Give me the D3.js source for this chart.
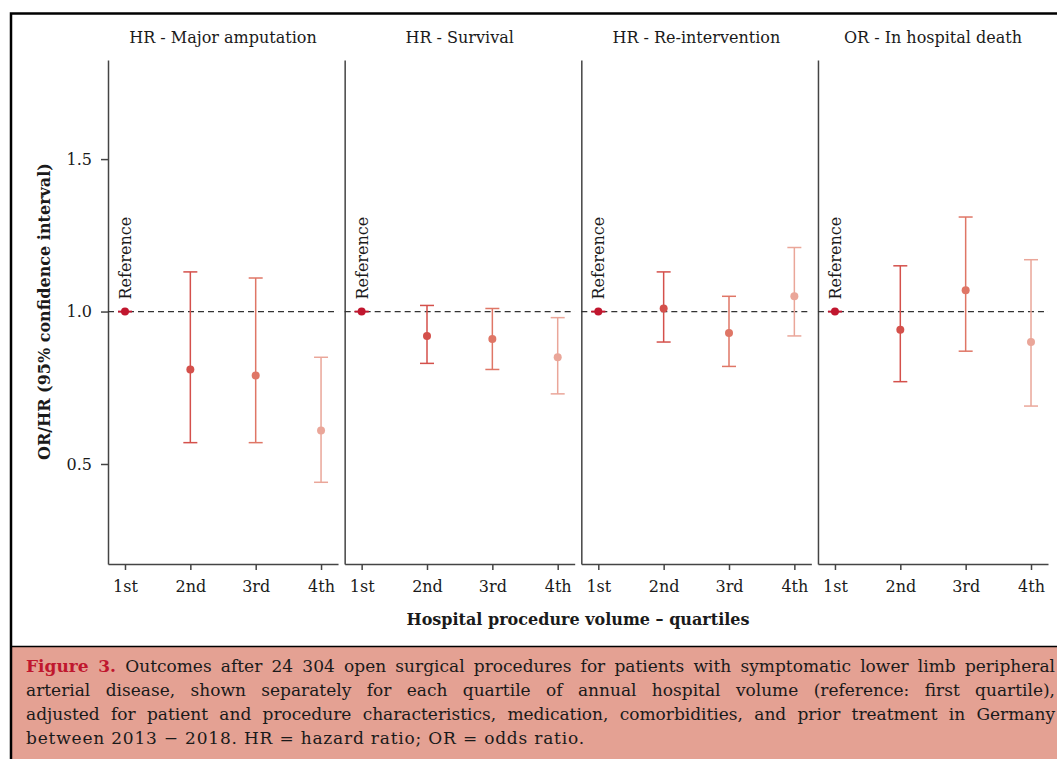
<!DOCTYPE html>
<html>
<head>
<meta charset="utf-8">
<script src="https://cdn.jsdelivr.net/npm/d3@7"></script>
<style>
  body { margin: 0; background: #fff; }
  #wrap { position: relative; width: 1057px; height: 759px; overflow: hidden; }
  svg { position: absolute; left: 0; top: 0; }
  .caption {
    position: absolute; left: 26px; top: 654px; width: 1029px;
    font-family: "DejaVu Serif", serif; font-size: 17px; line-height: 24px; color: #1a1a1a;
  }
  .caption div { text-align: justify; text-align-last: justify; white-space: nowrap; }
  .caption div.last { text-align-last: left; letter-spacing: 0.8px; }
  .caption b { color: #c0172e; }
</style>
</head>
<body>
<div id="wrap"></div>
<script>
var outcomes = ['HR - Major amputation', 'HR - Survival', 'HR - Re-intervention', 'OR - In hospital death'];
var quartiles = ['1st', '2nd', '3rd', '4th'];

// point estimates and 95% CI, one array per outcome (1st quartile = reference)
var amputationEst = [1.00, 0.81, 0.79, 0.61];
var amputationLow = [1.00, 0.57, 0.57, 0.44];
var amputationHigh = [1.00, 1.13, 1.11, 0.85];

var survivalEst = [1.00, 0.92, 0.91, 0.85];
var survivalLow = [1.00, 0.83, 0.81, 0.73];
var survivalHigh = [1.00, 1.02, 1.01, 0.98];

var reinterventionEst = [1.00, 1.01, 0.93, 1.05];
var reinterventionLow = [1.00, 0.90, 0.82, 0.92];
var reinterventionHigh = [1.00, 1.13, 1.05, 1.21];

var deathEst = [1.00, 0.94, 1.07, 0.90];
var deathLow = [1.00, 0.77, 0.87, 0.69];
var deathHigh = [1.00, 1.15, 1.31, 1.17];

var yTicks = [0.5, 1.0, 1.5];

var captionLines = [
  'Outcomes after 24 304 open surgical procedures for patients with symptomatic lower limb peripheral',
  'arterial disease, shown separately for each quartile of annual hospital volume (reference: first quartile),',
  'adjusted for patient and procedure characteristics, medication, comorbidities, and prior treatment in Germany',
  'between 2013 \u2212 2018. HR = hazard ratio; OR = odds ratio.'
];

var series = [
  { est: amputationEst, low: amputationLow, high: amputationHigh },
  { est: survivalEst, low: survivalLow, high: survivalHigh },
  { est: reinterventionEst, low: reinterventionLow, high: reinterventionHigh },
  { est: deathEst, low: deathLow, high: deathHigh }
];

var colors = ['#c1162e', '#d4504b', '#df7666', '#eaa699'];

var W = 1057, H = 759;
var plotTop = 60, plotBottom = 564;
var font = '"DejaVu Serif", serif';

var wrap = d3.select('#wrap');
var svg = wrap.append('svg').attr('width', W).attr('height', H);

// caption background + frame
svg.append('rect')
  .attr('x', 12).attr('y', 647).attr('width', W - 12).attr('height', H - 647)
  .attr('fill', '#e4a193');
svg.append('line')
  .attr('x1', 11).attr('x2', W).attr('y1', 646.5).attr('y2', 646.5)
  .attr('stroke', '#000').attr('stroke-width', 1.5);
svg.append('path')
  .attr('d', 'M11,' + H + 'V13.5H' + W)
  .attr('fill', 'none').attr('stroke', '#000').attr('stroke-width', 2.5);

// scales
var panel = d3.scaleBand().domain(outcomes).range([108, 1048]).paddingInner(0.028).paddingOuter(0);
var x = d3.scalePoint().domain(quartiles).range([0, panel.bandwidth()]).padding(0.26);
var y = d3.scaleLinear().domain([0.172, 1.825]).range([plotBottom, plotTop]);

var g = svg.selectAll('.panel')
  .data(outcomes)
  .enter().append('g')
  .attr('class', 'panel')
  .attr('transform', function (d) { return 'translate(' + panel(d) + ',0)'; });

// facet titles
g.append('text')
  .attr('x', panel.bandwidth() / 2)
  .attr('y', 43)
  .attr('text-anchor', 'middle')
  .style('font-family', font)
  .style('font-size', '16px')
  .attr('fill', '#1a1a1a')
  .text(function (d) { return d; });

// axes
g.each(function (d, i) {
  var p = d3.select(this);
  var yAxis = d3.axisLeft(y).tickValues(yTicks).tickFormat(d3.format('.1f'))
    .tickSize(7).tickSizeOuter(0).tickPadding(9);
  var ya = p.append('g').attr('class', 'y axis').call(yAxis);
  if (i > 0) ya.selectAll('.tick').remove();

  var xAxis = d3.axisBottom(x).tickSize(6).tickSizeOuter(0).tickPadding(11);
  p.append('g').attr('class', 'x axis')
    .attr('transform', 'translate(0,' + plotBottom + ')')
    .call(xAxis);

  // reference line at 1
  p.append('line')
    .attr('x1', 0).attr('x2', panel.bandwidth())
    .attr('y1', y(1)).attr('y2', y(1))
    .attr('stroke', '#333').attr('stroke-width', 1.3)
    .attr('stroke-dasharray', '6,4');

  var rows = quartiles.map(function (q, k) {
    return { q: q, k: k, est: series[i].est[k], low: series[i].low[k], high: series[i].high[k] };
  });

  var bars = p.selectAll('.ci').data(rows).enter().append('g').attr('class', 'ci')
    .attr('stroke', function (r) { return colors[r.k]; })
    .attr('stroke-width', 1.5);
  bars.append('line')
    .attr('x1', function (r) { return x(r.q); }).attr('x2', function (r) { return x(r.q); })
    .attr('y1', function (r) { return y(r.low); }).attr('y2', function (r) { return y(r.high); });
  bars.append('line')
    .attr('x1', function (r) { return x(r.q) - 7; }).attr('x2', function (r) { return x(r.q) + 7; })
    .attr('y1', function (r) { return y(r.low); }).attr('y2', function (r) { return y(r.low); });
  bars.append('line')
    .attr('x1', function (r) { return x(r.q) - 7; }).attr('x2', function (r) { return x(r.q) + 7; })
    .attr('y1', function (r) { return y(r.high); }).attr('y2', function (r) { return y(r.high); });

  p.selectAll('.dot').data(rows).enter().append('circle')
    .attr('class', 'dot')
    .attr('cx', function (r) { return x(r.q); })
    .attr('cy', function (r) { return y(r.est); })
    .attr('r', 4)
    .attr('fill', function (r) { return colors[r.k]; });

  p.append('text')
    .attr('transform', 'translate(' + (x(quartiles[0]) + 6) + ',' + (y(1) - 12) + ')rotate(-90)')
    .style('font-family', font)
    .style('font-size', '16px')
    .attr('fill', '#1a1a1a')
    .text('Reference');
});

svg.selectAll('.axis path, .axis line').attr('stroke', '#444').attr('stroke-width', 1.5);
svg.selectAll('.axis text')
  .style('font-family', font).style('font-size', '16px').attr('fill', '#1a1a1a');

// axis titles
svg.append('text')
  .attr('transform', 'translate(50,' + y(1) + ')rotate(-90)')
  .attr('text-anchor', 'middle')
  .style('font-family', font).style('font-size', '16px').style('font-weight', 'bold')
  .attr('fill', '#1a1a1a')
  .text('OR/HR (95% confidence interval)');

svg.append('text')
  .attr('x', (panel(outcomes[0]) + panel(outcomes[3]) + panel.bandwidth()) / 2)
  .attr('y', 625)
  .attr('text-anchor', 'middle')
  .style('font-family', font).style('font-size', '16px').style('font-weight', 'bold')
  .attr('fill', '#1a1a1a')
  .text('Hospital procedure volume \u2013 quartiles');

// caption
var cap = wrap.append('div').attr('class', 'caption');
captionLines.forEach(function (t, i) {
  var line = cap.append('div').classed('last', i === captionLines.length - 1);
  if (i === 0) {
    line.append('b').text('Figure 3.');
    line.append('span').text(' ' + t);
  } else {
    line.text(t);
  }
});
</script>
</body>
</html>
